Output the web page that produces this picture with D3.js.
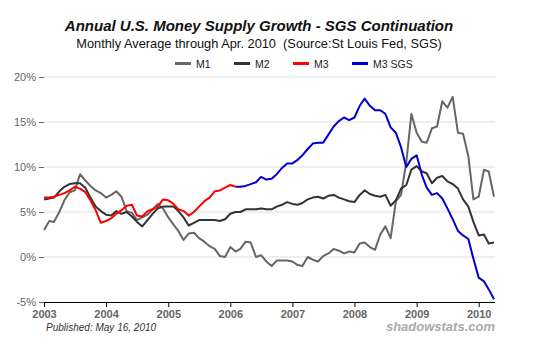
<!DOCTYPE html>
<html>
<head>
<meta charset="utf-8">
<script src="https://cdn.jsdelivr.net/npm/d3@7"></script>
<style>
  body { margin: 0; background: #fff; }
  svg { display: block; font-family: "Liberation Sans", Arial, sans-serif; }
</style>
</head>
<body>
<div id="main"></div>
<script>
// monthly values, Jan 2003 - Apr 2010
const m1 = [
  3.0, 4.0, 3.9, 5.0, 6.3, 7.2, 7.4, 9.2, 8.5, 7.9, 7.4, 7.1,
  6.6, 6.9, 7.3, 6.7, 5.1, 4.9, 4.1, 4.4, 4.7, 5.3, 5.9, 5.4,
  4.4, 3.6, 2.9, 1.9, 2.6, 2.7, 2.1, 1.7, 1.2, 0.9, 0.1, 0.0,
  1.1, 0.6, 0.9, 1.7, 1.6, 0.0, 0.2, -0.5, -1.0, -0.4, -0.4, -0.4,
  -0.5, -0.9, -1.0, 0.0, -0.3, -0.5, 0.1, 0.4, 0.9, 0.7, 0.4, 0.6,
  0.5, 1.5, 1.6, 1.1, 0.8, 2.5, 3.4, 2.1, 6.2, 6.9, 10.5, 15.9,
  13.8, 12.8, 12.7, 14.3, 14.5, 17.3, 16.6, 17.8, 13.8, 13.7, 11.2, 6.4,
  6.7, 9.7, 9.5, 6.7
];
const m2 = [
  6.4, 6.5, 6.6, 7.3, 7.8, 8.1, 8.2, 8.2, 7.7, 6.6, 5.6, 5.1,
  4.7, 4.6, 5.1, 4.8, 5.0, 4.5, 3.9, 3.4, 4.1, 4.8, 5.4, 5.6,
  5.6, 5.6, 5.1, 4.4, 3.5, 3.8, 4.1, 4.1, 4.1, 4.1, 4.0, 4.2,
  4.8, 5.0, 5.0, 5.3, 5.3, 5.3, 5.4, 5.3, 5.3, 5.6, 5.8, 6.1,
  5.9, 5.8, 6.0, 6.4, 6.6, 6.7, 6.5, 6.8, 6.9, 6.6, 6.4, 6.2,
  6.1, 6.9, 7.4, 7.0, 6.8, 6.7, 6.9, 5.7, 6.3, 7.6, 8.0, 9.7,
  10.1, 9.5, 9.3, 8.2, 8.8, 9.0, 8.4, 8.1, 7.6, 6.4, 5.6, 3.9,
  2.4, 2.5, 1.5, 1.6
];
// Jan 2003 - Feb 2006
const m3 = [
  6.6, 6.6, 6.7, 6.9, 7.1, 7.4, 7.8, 7.6, 7.2, 6.3, 5.2, 3.8,
  4.0, 4.3, 4.8, 5.2, 5.7, 5.8, 4.6, 4.5, 5.1, 5.3, 5.6, 6.4,
  6.3, 5.9, 5.3, 5.1, 4.6, 5.0, 5.6, 6.2, 6.6, 7.3, 7.4, 7.7,
  8.0, 7.8
];
// Feb 2006 - Apr 2010
const m3sgs = [
  7.8, 7.8, 7.9, 8.1, 8.3, 8.9, 8.6, 8.7, 9.2, 9.9, 10.4,
  10.4, 10.8, 11.3, 12.0, 12.6, 12.7, 12.7, 13.6, 14.5, 15.1, 15.5, 15.2,
  15.5, 16.8, 17.6, 16.8, 16.3, 16.3, 15.9, 14.4, 13.8, 12.2, 10.0, 10.9,
  11.3, 9.1, 7.7, 6.9, 7.1, 6.5, 5.4, 4.2, 2.9, 2.4, 2.0, -0.2,
  -2.3, -2.7, -3.6, -4.7
];

const seriesNames = ["M1", "M2", "M3", "M3 SGS"];
const seriesColors = ["#666666", "#333333", "#ff0000", "#0000cc"];
const seriesStart = [new Date(2003, 0, 1), new Date(2003, 0, 1), new Date(2003, 0, 1), new Date(2006, 1, 1)];
const yTicks = [-5, 0, 5, 10, 15, 20];
const yearTicks = [2003, 2004, 2005, 2006, 2007, 2008, 2009, 2010];

const w = 536;
const h = 345;
const margin = { top: 77, right: 41, bottom: 43, left: 44 };

const svg = d3.select("#main").append("svg")
  .attr("width", w)
  .attr("height", h);

const xScale = d3.scaleTime()
  .domain([new Date(2003, 0, 1), new Date(2010, 3, 1)])
  .range([margin.left, 494]);

const yScale = d3.scaleLinear()
  .domain([-5, 20])
  .range([302, margin.top]);

// titles
svg.append("text")
  .attr("x", 259)
  .attr("y", 31)
  .attr("text-anchor", "middle")
  .style("font-size", "15px")
  .style("font-weight", "bold")
  .style("font-style", "italic")
  .style("fill", "#111")
  .text("Annual U.S. Money Supply Growth - SGS Continuation");

svg.append("text")
  .attr("x", 259)
  .attr("y", 48)
  .attr("text-anchor", "middle")
  .style("font-size", "12.8px")
  .style("fill", "#111")
  .style("white-space", "pre")
  .text("Monthly Average through Apr. 2010  (Source:St Louis Fed, SGS)");

// legend
const legendX = [175, 234, 293, 352];
const legend = svg.append("g");
seriesNames.forEach(function(name, i) {
  legend.append("line")
    .attr("x1", legendX[i]).attr("x2", legendX[i] + 16)
    .attr("y1", 63.5).attr("y2", 63.5)
    .style("stroke", seriesColors[i])
    .style("stroke-width", 3);
  legend.append("text")
    .attr("x", legendX[i] + 21)
    .attr("y", 67.5)
    .style("font-size", "10.5px")
    .style("fill", "#222")
    .text(name);
});

// grid
svg.append("g")
  .selectAll("line")
  .data(yTicks.filter(d => d > -5))
  .enter()
  .append("line")
  .attr("x1", margin.left)
  .attr("x2", 495)
  .attr("y1", d => yScale(d))
  .attr("y2", d => yScale(d))
  .style("stroke", "#dddddd")
  .style("stroke-width", 1);

// y axis
const yAxis = d3.axisLeft(yScale)
  .tickValues(yTicks)
  .tickSize(5)
  .tickPadding(3)
  .tickFormat(d => d + "%");

const yG = svg.append("g")
  .attr("transform", "translate(" + margin.left + ",0)")
  .call(yAxis);
yG.select(".domain").remove();
yG.selectAll(".tick line").style("stroke", "#666");
yG.selectAll("text")
  .style("font-size", "11px")
  .style("font-family", "'Liberation Sans', Arial, sans-serif")
  .style("fill", "#666");

// x axis
const xAxis = d3.axisBottom(xScale)
  .tickValues(yearTicks.map(y => new Date(y, 0, 1)))
  .tickSize(5)
  .tickSizeOuter(0)
  .tickPadding(3)
  .tickFormat(d3.timeFormat("%Y"));

const xG = svg.append("g")
  .attr("transform", "translate(0,302)")
  .call(xAxis);
xG.select(".domain").attr("d", "M" + margin.left + ",0.5H495").style("stroke", "#000");
xG.selectAll(".tick line").style("stroke", "#000");
xG.selectAll("text")
  .style("font-size", "11px")
  .style("font-weight", "bold")
  .style("font-family", "'Liberation Sans', Arial, sans-serif")
  .style("fill", "#666");

// lines
const seriesData = [m1, m2, m3, m3sgs];
const line = d3.line()
  .x(d => xScale(d.date))
  .y(d => yScale(d.value));

seriesData.forEach(function(values, i) {
  const pts = values.map(function(v, k) {
    return { date: d3.timeMonth.offset(seriesStart[i], k), value: v };
  });
  svg.append("path")
    .datum(pts)
    .attr("d", line)
    .style("fill", "none")
    .style("stroke", seriesColors[i])
    .style("stroke-width", 2)
    .style("stroke-linejoin", "round");
});

// footer
svg.append("text")
  .attr("x", 46)
  .attr("y", 331)
  .style("font-size", "10px")
  .style("font-style", "italic")
  .style("fill", "#333")
  .text("Published: May 16, 2010");

svg.append("text")
  .attr("x", 495)
  .attr("y", 331)
  .attr("text-anchor", "end")
  .style("font-size", "13px")
  .style("font-weight", "bold")
  .style("font-style", "italic")
  .style("fill", "#aaaaaa")
  .text("shadowstats.com");
</script>
</body>
</html>
